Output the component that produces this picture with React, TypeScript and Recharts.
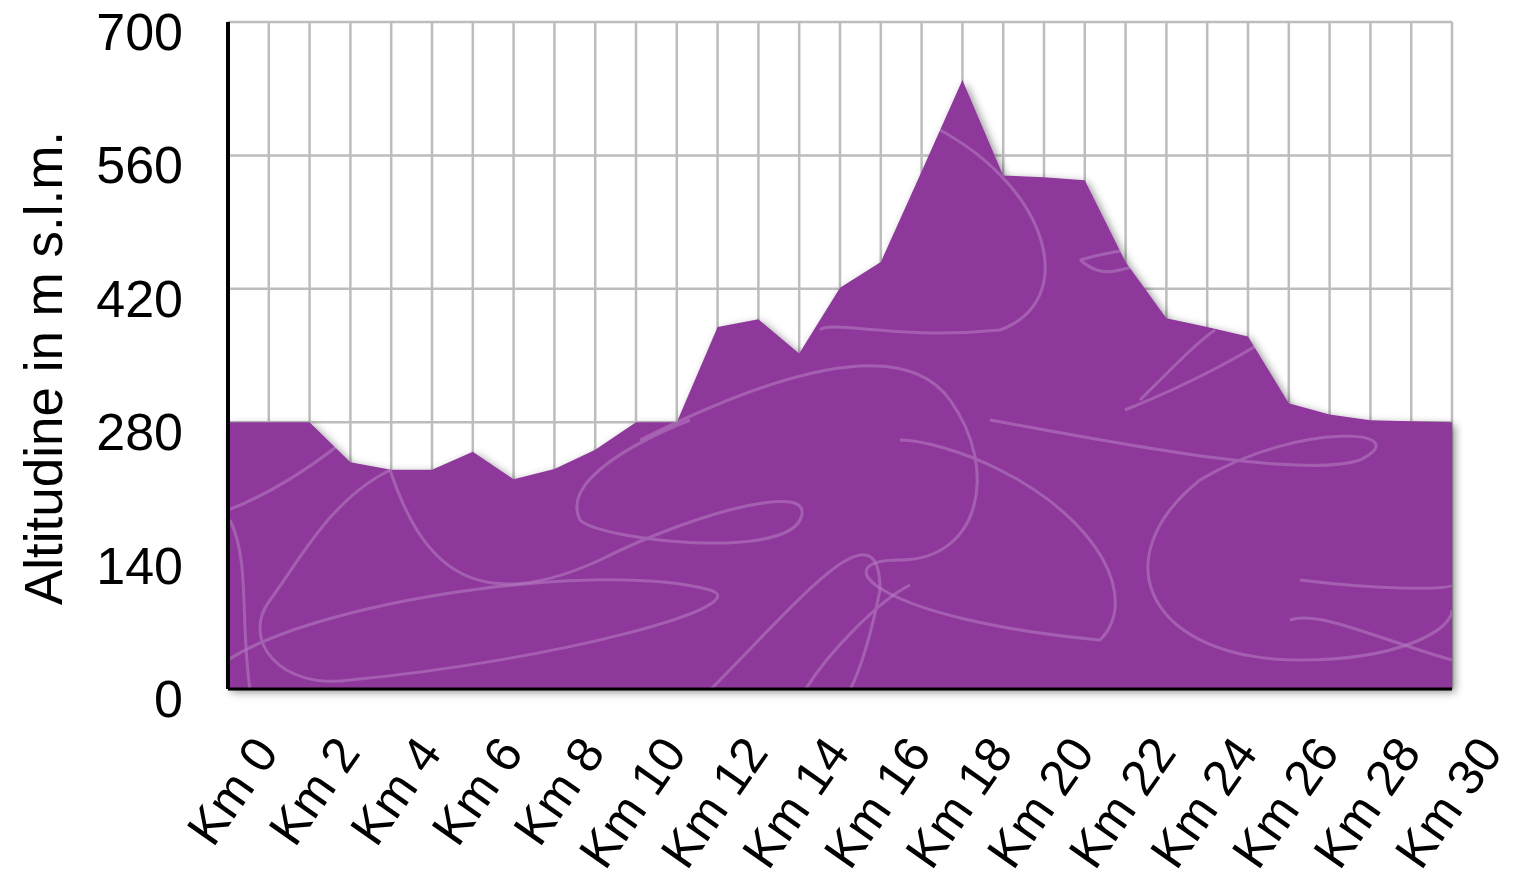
import React from "react"
import { AreaChart, Area, XAxis, YAxis, CartesianGrid } from "recharts"

// distance markers along the route
const kmLabels = [
	"Km 0", "Km 1", "Km 2", "Km 3", "Km 4", "Km 5", "Km 6", "Km 7", "Km 8", "Km 9", "Km 10",
	"Km 11", "Km 12", "Km 13", "Km 14", "Km 15", "Km 16", "Km 17", "Km 18", "Km 19", "Km 20",
	"Km 21", "Km 22", "Km 23", "Km 24", "Km 25", "Km 26", "Km 27", "Km 28", "Km 29", "Km 30",
]

// altitude (m s.l.m.) read at each km
const altitudes = [
	280, 280, 280, 238, 230, 230, 249, 220, 231, 251, 280,
	280, 380, 388, 352, 421, 448, 543, 639, 539, 537,
	534, 448, 389, 380, 370, 300, 288, 282, 281, 280,
]

const yTicks = [0, 140, 280, 420, 560, 700]

const data = kmLabels.map((km, i) => ({ km, altitude: altitudes[i] }))

const FONT = "'Liberation Sans', Arial, sans-serif"

// only every second km gets a label
const XTick = ({ x, y, payload, index }: any) => {
	if (index % 2 === 1) return <g />
	return (
		<text
			transform={`translate(${x + 52},${y + 56}) rotate(-55)`}
			textAnchor="end"
			fontSize={50}
			fontFamily={FONT}
			fill="#000">
			{payload.value}
		</text>
	)
}

const YTick = ({ x, y, payload }: any) => (
	<text x={x - 37} y={y + 10} textAnchor="end" dominantBaseline="central" fontSize={52} fontFamily={FONT} fill="#000">
		{payload.value}
	</text>
)

const YLabel = () => (
	<text transform="translate(62,368) rotate(-90)" textAnchor="middle" fontSize={53} fontFamily={FONT} fill="#000">
		Altitudine in m s.l.m.
	</text>
)

export default function App() {
	return (
		<div style={{ position: "absolute", left: 0, top: 0, width: 1514, height: 877, background: "#fff" }}>
			<AreaChart width={1514} height={877} data={data} margin={{ top: 22, right: 62, bottom: 0, left: 0 }}>
				<defs>
					<filter id="areaShadow" x="-5%" y="-5%" width="115%" height="115%">
						<feDropShadow dx="3" dy="3" stdDeviation="4" floodColor="#000" floodOpacity="0.45" />
					</filter>
					{/* swirly texture of the fill */}
					<pattern id="swirl" patternUnits="userSpaceOnUse" x="0" y="0" width="1514" height="877">
						<rect x="0" y="0" width="1514" height="877" fill="#8e399b" />
						<g fill="none" stroke="#b77cc3" strokeOpacity="0.55" strokeWidth="3">
							<path d="M228 660 C320 600 600 560 710 590 C760 605 560 660 350 680 C280 690 240 640 270 600 C300 560 330 500 390 470" />
							<path d="M390 470 C420 560 470 620 600 560 C700 510 820 480 800 520 C780 560 600 540 580 520 C560 480 640 440 690 420" />
							<path d="M640 440 C760 380 900 330 950 400 C1000 470 980 560 900 560 C820 560 880 620 1100 640 C1140 600 1100 520 1000 470 C960 450 920 440 900 440" />
							<path d="M990 420 C1100 440 1300 480 1360 460 C1420 430 1300 420 1200 480 C1100 560 1150 660 1300 660 C1400 660 1452 630 1452 610" />
							<path d="M940 130 C1050 190 1080 300 1000 330 C900 340 830 320 820 330" />
							<path d="M1080 260 C1150 240 1200 250 1120 270 C1100 275 1090 268 1080 260" />
							<path d="M1125 410 C1200 380 1250 350 1265 340 M1140 400 C1180 360 1200 340 1215 330" />
							<path d="M1300 580 C1380 590 1450 590 1452 585 M1452 660 C1380 640 1320 610 1290 620" />
							<path d="M710 690 C800 600 880 500 880 590 C870 640 860 670 850 690 M805 690 C830 650 880 600 910 585" />
							<path d="M228 510 C280 490 320 460 345 440 M250 690 C240 620 250 560 230 520" />
						</g>
					</pattern>
				</defs>
				<CartesianGrid stroke="#bdbdbd" strokeWidth={2.5} vertical horizontal />
				<Area
					type="linear"
					dataKey="altitude"
					stroke="none"
					fill="url(#swirl)"
					fillOpacity={1}
					filter="url(#areaShadow)"
					isAnimationActive={false}
				/>
				<XAxis
					dataKey="km"
					interval={0}
					height={188}
					axisLine={{ stroke: "#000", strokeWidth: 3 }}
					tickLine={false}
					tick={<XTick />}
				/>
				<YAxis
					domain={[0, 700]}
					ticks={yTicks}
					width={228}
					axisLine={{ stroke: "#000", strokeWidth: 4 }}
					tickLine={false}
					tick={<YTick />}
					label={<YLabel />}
				/>
			</AreaChart>
		</div>
	)
}
